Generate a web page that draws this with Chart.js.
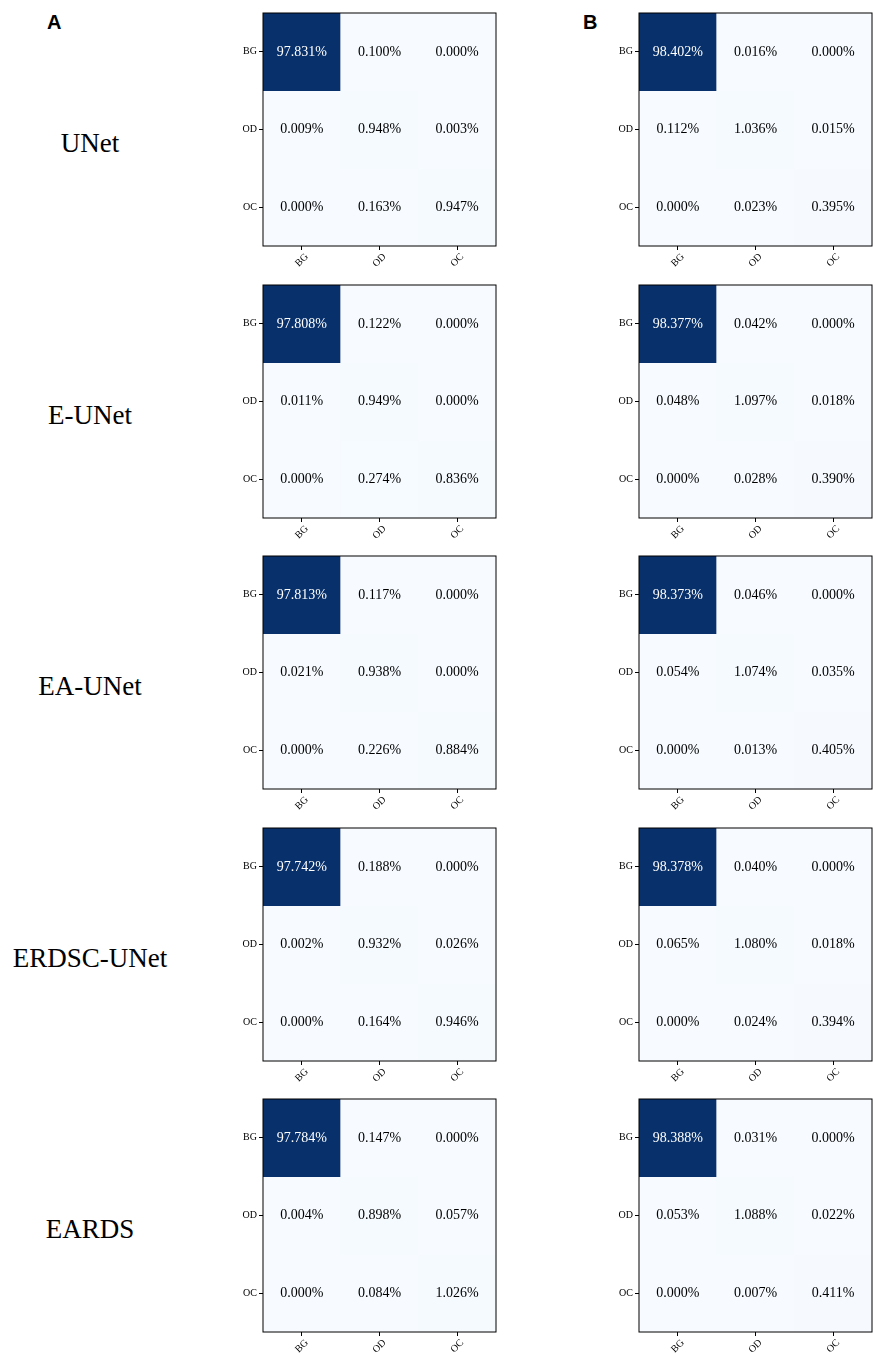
<!DOCTYPE html>
<html>
<head>
<meta charset="utf-8">
<script src="https://cdn.jsdelivr.net/npm/chart.js@4.4.1/dist/chart.umd.min.js"></script>
<style>
  body { margin: 0; background: #fff; width: 873px; height: 1354px; position: relative; overflow: hidden; }
  .cm { position: absolute; }
  .model { position: absolute; font-family: "Liberation Serif", serif; font-size: 27px; color: #000;
           transform: translate(-50%, -50%); white-space: nowrap; }
  .panel { position: absolute; font-family: "Liberation Sans", Arial, sans-serif; font-weight: bold; font-size: 20px; color: #000; }
</style>
</head>
<body>
<script>
// ==================== DATA ====================
const classes = ['BG', 'OD', 'OC'];
const models = ['UNet', 'E-UNet', 'EA-UNet', 'ERDSC-UNet', 'EARDS'];

// Panel A (rows = true class, cols = predicted class, in %)
const unetA   = [[97.831, 0.100, 0.000], [0.009, 0.948, 0.003], [0.000, 0.163, 0.947]];
const eunetA  = [[97.808, 0.122, 0.000], [0.011, 0.949, 0.000], [0.000, 0.274, 0.836]];
const eaunetA = [[97.813, 0.117, 0.000], [0.021, 0.938, 0.000], [0.000, 0.226, 0.884]];
const erdscA  = [[97.742, 0.188, 0.000], [0.002, 0.932, 0.026], [0.000, 0.164, 0.946]];
const eardsA  = [[97.784, 0.147, 0.000], [0.004, 0.898, 0.057], [0.000, 0.084, 1.026]];

// Panel B
const unetB   = [[98.402, 0.016, 0.000], [0.112, 1.036, 0.015], [0.000, 0.023, 0.395]];
const eunetB  = [[98.377, 0.042, 0.000], [0.048, 1.097, 0.018], [0.000, 0.028, 0.390]];
const eaunetB = [[98.373, 0.046, 0.000], [0.054, 1.074, 0.035], [0.000, 0.013, 0.405]];
const erdscB  = [[98.378, 0.040, 0.000], [0.065, 1.080, 0.018], [0.000, 0.024, 0.394]];
const eardsB  = [[98.388, 0.031, 0.000], [0.053, 1.088, 0.022], [0.000, 0.007, 0.411]];

const panelA = [unetA, eunetA, eaunetA, erdscA, eardsA];
const panelB = [unetB, eunetB, eaunetB, erdscB, eardsB];

// ==================== LAYOUT ====================
const PLOT = 233;          // side of each matrix
const AXW = 34;            // y axis width
const AXH = 36;            // x axis height
const PADT = 12, PADR = 12;
const colLeft = [263, 639];
const rowTop = models.map((m, i) => 13 + i * 271.5);

// matplotlib "Blues"
const BLUES = ['#f7fbff', '#deebf7', '#c6dbef', '#9ecae1', '#6baed6', '#4292c6', '#2171b5', '#08519c', '#08306b'];
function hexRgb(h) {
    return [parseInt(h.slice(1, 3), 16), parseInt(h.slice(3, 5), 16), parseInt(h.slice(5, 7), 16)];
}
function blues(t) {
    t = Math.max(0, Math.min(1, t));
    const pos = t * (BLUES.length - 1);
    const i = Math.min(Math.floor(pos), BLUES.length - 2);
    const f = pos - i;
    const a = hexRgb(BLUES[i]), b = hexRgb(BLUES[i + 1]);
    const c = a.map((v, k) => Math.round(v + (b[k] - v) * f));
    return `rgb(${c[0]},${c[1]},${c[2]})`;
}

// Texto en cada celda
const cellText = {
    id: 'cellText',
    afterDatasetsDraw(chart, args, opts) {
        const ctx = chart.ctx;
        ctx.save();
        ctx.font = '14px "Liberation Serif"';
        ctx.textAlign = 'center';
        ctx.textBaseline = 'middle';
        chart.data.datasets.forEach((ds, i) => {
            chart.getDatasetMeta(i).data.forEach((bar, j) => {
                const v = opts.matrix[i][j];
                ctx.fillStyle = v > opts.max / 2 ? '#fff' : '#000';
                ctx.fillText(v.toFixed(3) + '%', bar.x, (bar.y + bar.base) / 2);
            });
        });
        ctx.restore();
    }
};

// Marco alrededor del área
const frame = {
    id: 'frame',
    afterDraw(chart) {
        const a = chart.chartArea;
        const ctx = chart.ctx;
        ctx.save();
        ctx.strokeStyle = '#000';
        ctx.lineWidth = 1;
        ctx.strokeRect(a.left, a.top, a.right - a.left, a.bottom - a.top);
        ctx.restore();
    }
};

function createMatrix(matrix, left, top) {
    const div = document.createElement('div');
    div.className = 'cm';
    div.style.left = (left - AXW) + 'px';
    div.style.top = (top - PADT) + 'px';
    const canvas = document.createElement('canvas');
    canvas.width = AXW + PLOT + PADR;
    canvas.height = PADT + PLOT + AXH;
    div.appendChild(canvas);
    document.body.appendChild(div);

    const max = Math.max(...matrix.flat());

    new Chart(canvas.getContext('2d'), {
        type: 'bar',
        data: {
            labels: classes,
            datasets: matrix.map((row, i) => ({
                label: classes[i],
                data: row.map(() => [i, i + 1]),
                backgroundColor: row.map(v => blues(v / max)),
                borderWidth: 0,
                grouped: false,
                barPercentage: 1,
                categoryPercentage: 1
            }))
        },
        options: {
            responsive: false,
            animation: false,
            layout: { padding: { top: PADT, right: PADR, left: 0, bottom: 0 } },
            plugins: {
                legend: { display: false },
                tooltip: { enabled: false },
                cellText: { matrix: matrix, max: max }
            },
            scales: {
                x: {
                    grid: { offset: false, drawOnChartArea: false, tickLength: 4, color: '#000' },
                    border: { display: false },
                    ticks: {
                        color: '#000',
                        font: { family: 'Liberation Serif', size: 10 },
                        minRotation: 45,
                        maxRotation: 45,
                        padding: 1,
                        labelOffset: 5
                    },
                    afterFit(scale) { scale.height = AXH; }
                },
                y: {
                    min: 0,
                    max: 3,
                    reverse: true,
                    grid: { drawOnChartArea: false, tickLength: 4, color: '#000' },
                    border: { display: false },
                    afterBuildTicks(scale) {
                        scale.ticks = classes.map((c, i) => ({ value: i + 0.5 }));
                    },
                    ticks: {
                        color: '#000',
                        font: { family: 'Liberation Serif', size: 10 },
                        padding: 2,
                        callback: (v, i) => classes[i]
                    },
                    afterFit(scale) { scale.width = AXW; }
                }
            }
        },
        plugins: [cellText, frame]
    });
}

panelA.forEach((m, i) => createMatrix(m, colLeft[0], rowTop[i]));
panelB.forEach((m, i) => createMatrix(m, colLeft[1], rowTop[i]));

models.forEach((name, i) => {
    const d = document.createElement('div');
    d.className = 'model';
    d.textContent = name;
    d.style.left = '90px';
    d.style.top = (rowTop[i] + 130) + 'px';
    document.body.appendChild(d);
});

[['A', 47], ['B', 583]].forEach(([t, x]) => {
    const d = document.createElement('div');
    d.className = 'panel';
    d.textContent = t;
    d.style.left = x + 'px';
    d.style.top = '11px';
    document.body.appendChild(d);
});
</script>
</body>
</html>
